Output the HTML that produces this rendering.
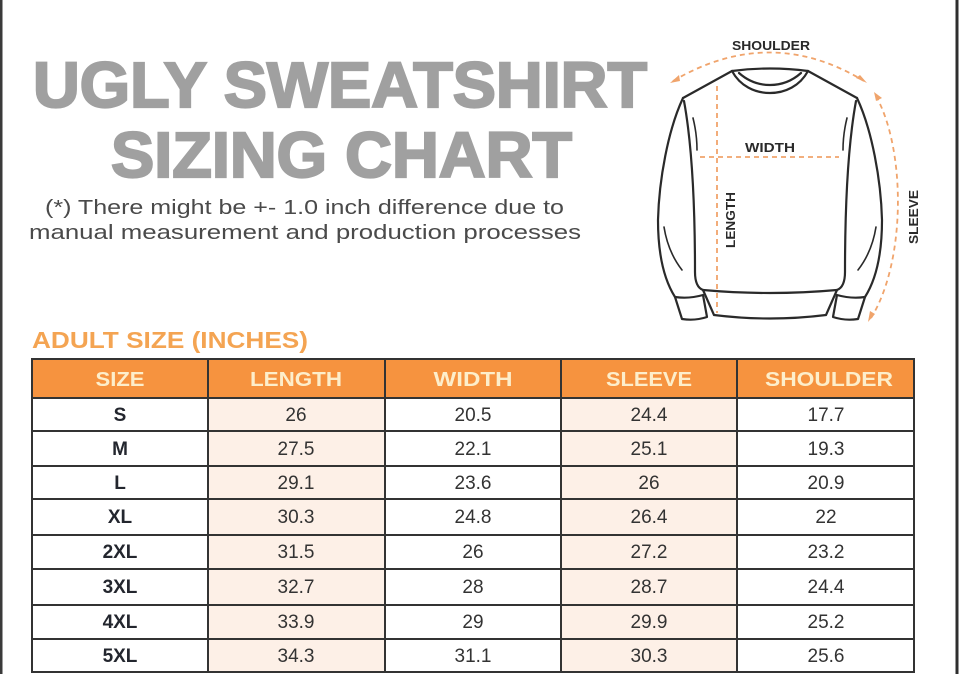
<!DOCTYPE html>
<html>
<head>
<meta charset="utf-8">
<style>
  html, body { margin:0; padding:0; background:#fff; }
  body { width:960px; height:674px; overflow:hidden; }
  svg { display:block; }
  .t { font-family: "Liberation Sans", sans-serif; }
</style>
</head>
<body>
<svg width="960" height="674" viewBox="0 0 960 674" xmlns="http://www.w3.org/2000/svg">
  <rect x="0" y="0" width="960" height="674" fill="#ffffff"/>
  <!-- side borders -->
  <rect x="0" y="0" width="2.5" height="674" fill="#3a3a3a"/>
  <rect x="955.5" y="0" width="3" height="674" fill="#2e2e2e"/>

  <!-- Title -->
  <text class="t" x="33" y="107" font-size="64" font-weight="bold" fill="#a0a0a0" stroke="#a0a0a0" stroke-width="2.2" textLength="614" lengthAdjust="spacingAndGlyphs">UGLY SWEATSHIRT</text>
  <text class="t" x="111" y="177" font-size="64" font-weight="bold" fill="#a0a0a0" stroke="#a0a0a0" stroke-width="2.2" textLength="461" lengthAdjust="spacingAndGlyphs">SIZING CHART</text>

  <!-- Subtitle -->
  <text class="t" x="45" y="214" font-size="20" fill="#4a4a4a" textLength="519" lengthAdjust="spacingAndGlyphs">(*) There might be +- 1.0 inch difference due to</text>
  <text class="t" x="29" y="239" font-size="20" fill="#4a4a4a" textLength="552" lengthAdjust="spacingAndGlyphs">manual measurement and production processes</text>

  <!-- Sweatshirt illustration -->
  <g fill="none" stroke="#2a2a2a" stroke-width="2.2" stroke-linejoin="round" stroke-linecap="round">
    <path d="M732,71 Q770,66 808,71"/>
    <path d="M732,71 C740,86 755,93 770,93 C785,93 800,86 808,71"/>
    <path d="M739,73 C748,81 758,85 770,85 C782,85 792,81 801,73"/>
    <path d="M732,71 L683,98"/>
    <path d="M808,71 L857,98"/>
    <path d="M683,98 C668,130 659,180 658,220 C658,252 663,278 675,297"/>
    <path d="M857,98 C872,130 881,180 882,220 C882,252 877,278 865,297"/>
    <path d="M675,297 L682,319 Q695,321 707,317 L703,295 Q689,299 675,297"/>
    <path d="M865,297 L858,319 Q845,321 833,317 L837,295 Q851,299 865,297"/>
    <path d="M684,101 C693,150 695,220 695,272 Q695,287 703,290"/>
    <path d="M856,101 C847,150 845,220 845,272 Q845,287 837,290"/>
    <path d="M693,118 Q697,134 697,150" stroke-width="1.6"/>
    <path d="M847,118 Q843,134 843,150" stroke-width="1.6"/>
    <path d="M703,290 Q770,296 837,290"/>
    <path d="M703,290 L714,315 Q770,322 826,315 L837,290"/>
    <path d="M664,227 Q668,252 682,270" stroke-width="1.6"/>
    <path d="M876,227 Q872,252 858,270" stroke-width="1.6"/>
  </g>
  <g fill="none" stroke="#f0a46c" stroke-width="1.8" stroke-dasharray="5 4">
    <path d="M673,81 Q770,24 864,81"/>
    <path d="M876,96 C906,150 906,262 871,318"/>
    <path d="M700,157 L839,157"/>
    <path d="M717,86 L717,313"/>
  </g>
  <g fill="#f0a46c">
    <path d="M670,83 L679,75 L680,81 Z"/>
    <path d="M867,83 L856,78 L860,75 Z"/>
    <path d="M874,92 L882,98 L876,101 Z"/>
    <path d="M868,322 L870,311 L875,314 Z"/>
  </g>
  <text class="t" x="771" y="50" font-size="13" font-weight="bold" fill="#2a2a2a" text-anchor="middle" textLength="78" lengthAdjust="spacingAndGlyphs">SHOULDER</text>
  <text class="t" x="770" y="152" font-size="13" font-weight="bold" fill="#2a2a2a" text-anchor="middle" textLength="50" lengthAdjust="spacingAndGlyphs">WIDTH</text>
  <text class="t" transform="translate(735,220) rotate(-90)" x="0" y="0" font-size="13" font-weight="bold" fill="#2a2a2a" text-anchor="middle" textLength="56" lengthAdjust="spacingAndGlyphs">LENGTH</text>
  <text class="t" transform="translate(918,217) rotate(-90)" x="0" y="0" font-size="13" font-weight="bold" fill="#2a2a2a" text-anchor="middle" textLength="54" lengthAdjust="spacingAndGlyphs">SLEEVE</text>

  <!-- Section heading -->
  <text class="t" x="32" y="348" font-size="23" font-weight="bold" fill="#f4a452" textLength="276" lengthAdjust="spacingAndGlyphs">ADULT SIZE (INCHES)</text>

  <!-- Table -->
  <rect x="32" y="359" width="882" height="39" fill="#f6933f"/>
  <rect x="208" y="398" width="177" height="274" fill="#fdf0e7"/>
  <rect x="561" y="398" width="176" height="274" fill="#fdf0e7"/>

  <g stroke="#333" stroke-width="2" fill="none">
    <rect x="32" y="359" width="882" height="313"/>
    <line x1="32" y1="398" x2="914" y2="398"/>
    <line x1="32" y1="431" x2="914" y2="431"/>
    <line x1="32" y1="466" x2="914" y2="466"/>
    <line x1="32" y1="499" x2="914" y2="499"/>
    <line x1="32" y1="535" x2="914" y2="535"/>
    <line x1="32" y1="569" x2="914" y2="569"/>
    <line x1="32" y1="605" x2="914" y2="605"/>
    <line x1="32" y1="639" x2="914" y2="639"/>
    <line x1="208" y1="359" x2="208" y2="672"/>
    <line x1="385" y1="359" x2="385" y2="672"/>
    <line x1="561" y1="359" x2="561" y2="672"/>
    <line x1="737" y1="359" x2="737" y2="672"/>
  </g>

  <g class="t" font-size="20" font-weight="bold" fill="#fdeecb" text-anchor="middle">
    <text x="120" y="386" textLength="49" lengthAdjust="spacingAndGlyphs">SIZE</text>
    <text x="296" y="386" textLength="92" lengthAdjust="spacingAndGlyphs">LENGTH</text>
    <text x="473" y="386" textLength="79" lengthAdjust="spacingAndGlyphs">WIDTH</text>
    <text x="649" y="386" textLength="86" lengthAdjust="spacingAndGlyphs">SLEEVE</text>
    <text x="829" y="386" textLength="128" lengthAdjust="spacingAndGlyphs">SHOULDER</text>
  </g>

  <g class="t" font-size="19" font-weight="bold" fill="#23262e" text-anchor="middle">
    <text x="120" y="421">S</text>
    <text x="120" y="455">M</text>
    <text x="120" y="489">L</text>
    <text x="120" y="523">XL</text>
    <text x="120" y="558">2XL</text>
    <text x="120" y="593">3XL</text>
    <text x="120" y="628">4XL</text>
    <text x="120" y="662">5XL</text>
  </g>

  <g class="t" font-size="19" fill="#333" text-anchor="middle">
    <text x="296" y="421">26</text>
    <text x="473" y="421">20.5</text>
    <text x="649" y="421">24.4</text>
    <text x="826" y="421">17.7</text>

    <text x="296" y="455">27.5</text>
    <text x="473" y="455">22.1</text>
    <text x="649" y="455">25.1</text>
    <text x="826" y="455">19.3</text>

    <text x="296" y="489">29.1</text>
    <text x="473" y="489">23.6</text>
    <text x="649" y="489">26</text>
    <text x="826" y="489">20.9</text>

    <text x="296" y="523">30.3</text>
    <text x="473" y="523">24.8</text>
    <text x="649" y="523">26.4</text>
    <text x="826" y="523">22</text>

    <text x="296" y="558">31.5</text>
    <text x="473" y="558">26</text>
    <text x="649" y="558">27.2</text>
    <text x="826" y="558">23.2</text>

    <text x="296" y="593">32.7</text>
    <text x="473" y="593">28</text>
    <text x="649" y="593">28.7</text>
    <text x="826" y="593">24.4</text>

    <text x="296" y="628">33.9</text>
    <text x="473" y="628">29</text>
    <text x="649" y="628">29.9</text>
    <text x="826" y="628">25.2</text>

    <text x="296" y="662">34.3</text>
    <text x="473" y="662">31.1</text>
    <text x="649" y="662">30.3</text>
    <text x="826" y="662">25.6</text>
  </g>
</svg>
</body>
</html>
